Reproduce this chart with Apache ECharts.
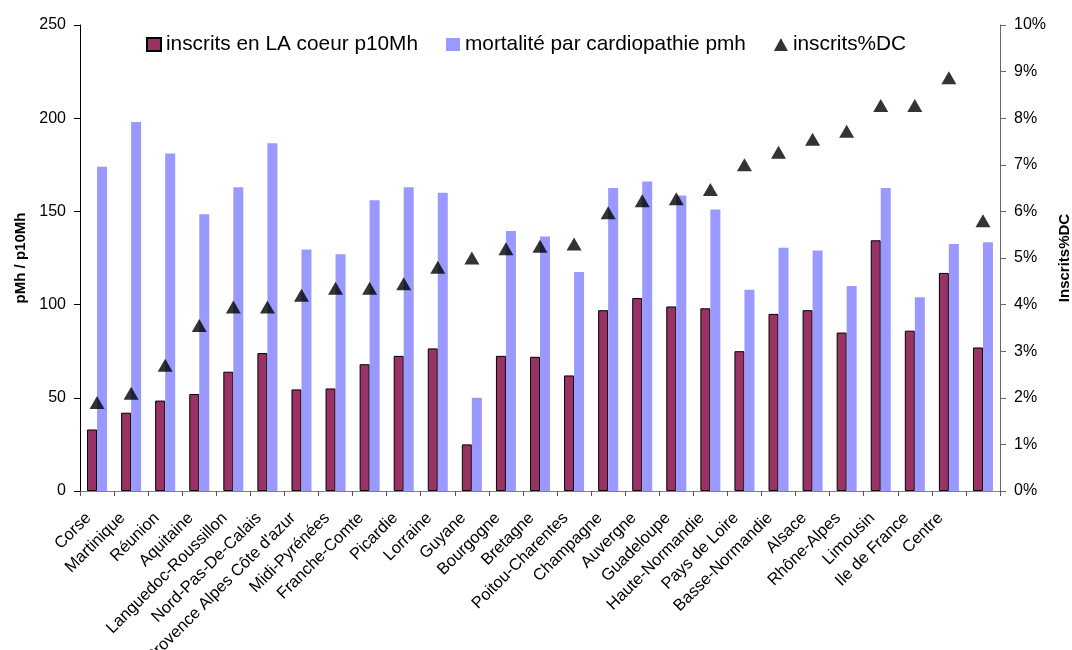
<!DOCTYPE html>
<html>
<head>
<meta charset="utf-8">
<script src="https://cdn.jsdelivr.net/npm/echarts@6/dist/echarts.min.js"></script>
<style>
  html, body { margin: 0; padding: 0; background: #fff; }
  #chart { width: 1072px; height: 650px; }
</style>
</head>
<body>
<div id="chart"></div>
<script>
// régions (la dernière n'a pas d'étiquette)
const regions = [
  'Corse', 'Martinique', 'Réunion', 'Aquitaine', 'Languedoc-Roussillon',
  'Nord-Pas-De-Calais', "Provence Alpes Côte d'azur", 'Midi-Pyrénées',
  'Franche-Comte', 'Picardie', 'Lorraine', 'Guyane', 'Bourgogne', 'Bretagne',
  'Poitou-Charentes', 'Champagne', 'Auvergne', 'Guadeloupe', 'Haute-Normandie',
  'Pays de Loire', 'Basse-Normandie', 'Alsace', 'Rhône-Alpes', 'Limousin',
  'Ile de France', 'Centre', ''
]
const inscrits = [33, 42, 48.5, 52, 64, 74, 54.5, 55, 68, 72.5, 76.5, 25, 72.5, 72,
  62, 97, 103.5, 99, 98, 75, 95, 97, 85, 134.5, 86, 117, 77]
const mortalite = [174, 198, 181, 148.5, 163, 186.5, 129.5, 127, 156, 163, 160, 50,
  139.5, 136.5, 117.5, 162.5, 166, 158.5, 151, 108, 130.5, 129, 110, 162.5, 104, 132.5, 133.5]
// en %
const inscritsDC = [1.9, 2.1, 2.7, 3.55, 3.95, 3.95, 4.2, 4.35, 4.35, 4.45, 4.8, 5.0,
  5.2, 5.25, 5.3, 5.97, 6.23, 6.27, 6.47, 7.0, 7.27, 7.55, 7.72, 8.27, 8.27, 8.87, 5.8]

const font = 'Liberation Sans, Arial, sans-serif'
const myChart = echarts.init(document.getElementById('chart'))

const option = {
  animation: false,
  textStyle: { fontFamily: font, color: '#000' },
  grid: { left: 80, right: 72, top: 25, bottom: 159, outerBoundsMode: 'none', containLabel: false },
  legend: {
    left: 141,
    top: 29,
    itemWidth: 14,
    itemHeight: 13,
    itemGap: 28,
    textStyle: { fontSize: 20.8, color: '#000', fontFamily: font },
    data: [
      { name: 'inscrits en LA coeur p10Mh', icon: 'rect' },
      { name: 'mortalité par cardiopathie pmh', icon: 'rect' },
      { name: 'inscrits%DC', icon: 'triangle', itemStyle: { color: '#000' } }
    ]
  },
  xAxis: {
    type: 'category',
    data: regions,
    axisLine: { lineStyle: { color: '#808080', width: 1 } },
    axisTick: { show: true, length: 5, lineStyle: { color: '#555' } },
    axisLabel: {
      interval: 0,
      rotate: 45,
      fontSize: 16.5,
      color: '#000',
      margin: 16,
      padding: [0, 12, 0, 0]
    }
  },
  yAxis: [
    {
      type: 'value',
      min: 0,
      max: 250,
      interval: 50,
      name: 'pMh / p10Mh',
      nameLocation: 'middle',
      nameGap: 50,
      nameRotate: 90,
      nameTextStyle: { fontSize: 15, fontWeight: 'bold', color: '#000' },
      axisLine: { show: true, lineStyle: { color: '#000' } },
      axisTick: { show: true, length: 6, lineStyle: { color: '#000' } },
      axisLabel: { fontSize: 16, color: '#000', margin: 14 },
      splitLine: { show: false }
    },
    {
      type: 'value',
      min: 0,
      max: 10,
      interval: 1,
      position: 'right',
      name: 'Inscrits%DC',
      nameLocation: 'middle',
      nameGap: 50,
      nameRotate: 90,
      nameTextStyle: { fontSize: 15, fontWeight: 'bold', color: '#000' },
      axisLine: { show: true, lineStyle: { color: '#666' } },
      axisTick: { show: true, length: 6, lineStyle: { color: '#666' } },
      axisLabel: { fontSize: 16, color: '#000', margin: 14, formatter: '{value}%' },
      splitLine: { show: false }
    }
  ],
  series: [
    {
      name: 'inscrits en LA coeur p10Mh',
      type: 'bar',
      data: inscrits,
      barWidth: 10,
      barGap: '0%',
      itemStyle: { color: '#993366', borderColor: '#000', borderWidth: 1 }
    },
    {
      name: 'mortalité par cardiopathie pmh',
      type: 'bar',
      data: mortalite,
      barWidth: 10,
      barGap: '0%',
      itemStyle: { color: '#9999FF' }
    },
    {
      name: 'inscrits%DC',
      type: 'scatter',
      yAxisIndex: 1,
      data: inscritsDC,
      symbol: 'triangle',
      symbolSize: [15, 13],
      itemStyle: { color: '#000' },
      z: 5
    }
  ]
}

myChart.setOption(option)
</script>
</body>
</html>
